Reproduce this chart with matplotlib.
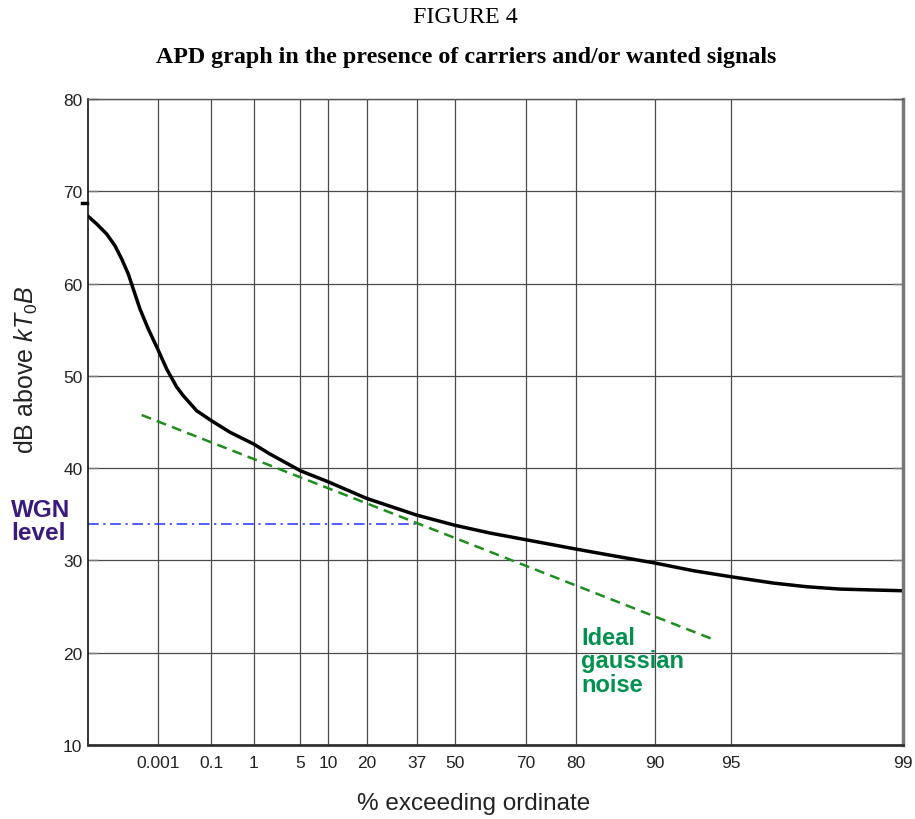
import numpy as np
from matplotlib import pyplot as plt

plt.rcParams['font.family'] = ['Liberation Sans', 'DejaVu Sans']
plt.rcParams['mathtext.fontset'] = 'custom'
plt.rcParams['mathtext.rm'] = 'Liberation Sans'
plt.rcParams['mathtext.it'] = 'Liberation Sans:italic'

# x axis: % exceeding ordinate (nonlinear APD paper)
tick_pct = [0.001, 0.1, 1, 5, 10, 20, 37, 50, 70, 80, 90, 95, 99]
tick_lbl = ["0.001", "0.1", "1", "5", "10", "20", "37", "50", "70", "80", "90", "95", "99"]
y_ticks = [10, 20, 30, 40, 50, 60, 70, 80]

# measured APD curve (percent, dB above kT0B)
apd_pct = [0, 0.000125, 0.000268, 0.000387, 0.000484, 0.000578, 0.00065, 0.000746,
           0.000865, 0.001, 0.01756, 0.0359, 0.0481, 0.0728, 0.1, 0.4955,
           1, 2.40, 5, 10, 20, 37, 50, 59.84, 70, 80, 84.74, 90, 92.53, 95,
           95.99, 96.77, 97.54, 98.32, 99]
apd_db = [67.3, 66.46, 65.37, 64.1, 62.66, 61.04, 59.41, 57.24,
          55.08, 52.91, 50.74, 48.8, 47.85, 46.22, 45.14, 43.89,
          42.62, 41.53, 39.72, 38.53, 36.73, 34.92, 33.8, 32.97, 32.25, 31.24, 30.51,
          29.72, 28.89, 28.24, 27.55, 27.15, 26.9, 26.8, 26.72]

# ideal gaussian noise (straight line on this paper)
gauss_pct = [0.00077, 93.78]
gauss_db = [45.76, 21.49]

# white gaussian noise level
wgn_pct = [0, 37]
wgn_db = [34.0, 34.0]

marker_db = 68.7

# where each percentage sits along the axis (fraction of width)
scale_pct = [0] + tick_pct
scale_pos = [0, 0.0855, 0.1515, 0.2032, 0.2606, 0.2945, 0.3417, 0.4031,
             0.4508, 0.5371, 0.5984, 0.6957, 0.7886, 1.0]


def fwd(x):
    return np.interp(x, scale_pct, scale_pos)


def inv(x):
    return np.interp(x, scale_pos, scale_pct)


fig = plt.figure(figsize=(9.15, 8.2), dpi=100)
ax = fig.add_axes([0.0962, 0.0902, 0.8907, 0.7878])
ax.set_xscale('function', functions=(fwd, inv))
ax.set_xlim(0, 99)
ax.set_ylim(10, 80)

ax.set_xticks(tick_pct)
ax.set_xticklabels(tick_lbl)
ax.xaxis.set_minor_locator(plt.NullLocator())
ax.set_yticks(y_ticks)
ax.yaxis.set_minor_locator(plt.NullLocator())

ax.grid(True, color='#4a4a4a', lw=0.9)
ax.set_axisbelow(True)
ax.tick_params(axis='x', length=0, pad=7, labelsize=12.5, colors='#222222')
ax.tick_params(axis='y', direction='in', length=7, width=1, color='#777777',
               right=True, pad=4, labelsize=12.5, labelcolor='#222222')

ax.spines['left'].set_color('#111111')
ax.spines['left'].set_linewidth(1.2)
ax.spines['bottom'].set_color('#333333')
ax.spines['bottom'].set_linewidth(2)
ax.spines['right'].set_color('#777777')
ax.spines['right'].set_linewidth(2.5)
ax.spines['top'].set_color('#555555')
ax.spines['top'].set_linewidth(1)

ax.plot(wgn_pct, wgn_db, color='#2233ff', lw=1.1, ls=(0, (7, 3, 1.5, 3)))
ax.plot(gauss_pct, gauss_db, color='#1e8c1e', lw=1.8, ls=(0, (4, 2.5)))
ax.plot(apd_pct, apd_db, color='black', lw=2.5, solid_capstyle='round',
        solid_joinstyle='round')

# small mark left of the axis near 70
ax.plot([-0.0075, -0.001], [marker_db, marker_db], color='black', lw=2.5,
        transform=ax.get_yaxis_transform(), clip_on=False)

ax.text(80.67, 22.9, "Ideal\ngaussian\nnoise", color='#00914f', fontsize=17,
        fontweight='bold', va='top', ha='left', linespacing=1.02)
fig.text(0.012, 0.3634, "WGN\nlevel", color='#3b1a7e', fontsize=17.5,
         fontweight='bold', va='center', ha='left', linespacing=0.95)

ax.set_ylabel(r'dB above $\mathit{kT}_{\mathrm{0}}\mathit{B}$', fontsize=18, color='#222222')
ax.yaxis.set_label_coords(-0.0588, 0.582)
ax.set_xlabel('% exceeding ordinate', fontsize=17.5, color='#222222')
ax.xaxis.set_label_coords(0.473, -0.0728)

fig.text(0.509, 0.979, "FIGURE 4", family='Liberation Serif', fontsize=17.3,
         ha='center', va='center')
fig.text(0.509, 0.930, "APD graph in the presence of carriers and/or wanted signals",
         family='Liberation Serif', fontweight='bold', fontsize=17.3,
         ha='center', va='center')

fig.savefig('out.png', dpi=100)
